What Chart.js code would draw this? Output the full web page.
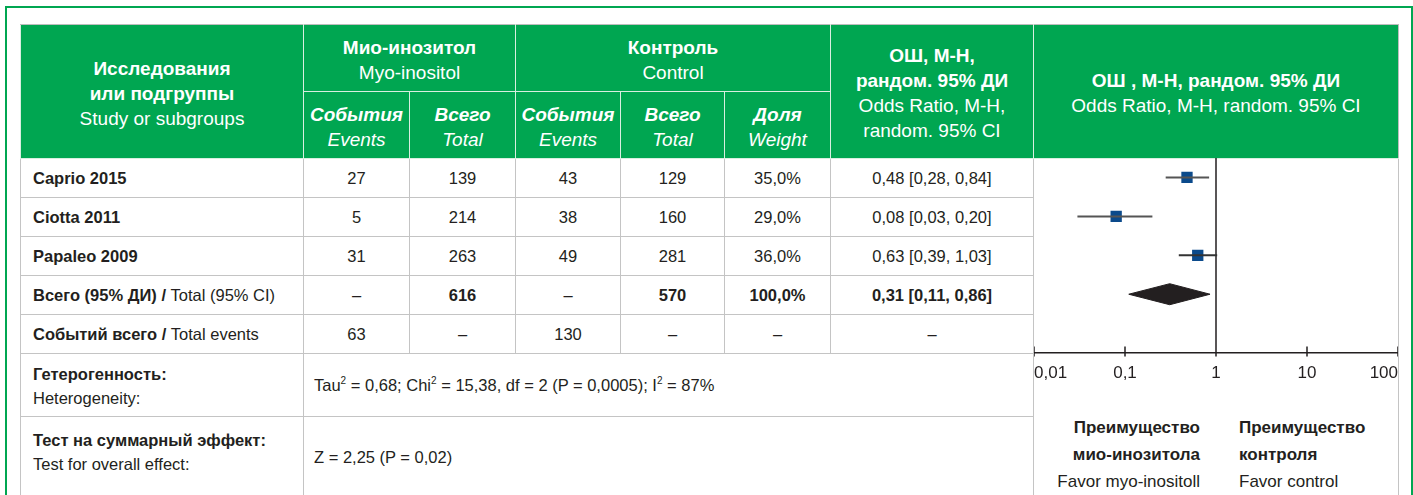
<!DOCTYPE html>
<html>
<head>
<meta charset="utf-8">
<script src="https://cdn.jsdelivr.net/npm/chart.js@4/dist/chart.umd.min.js"></script>
<style>
  html, body { margin: 0; padding: 0; background: #fff; }
  body { width: 1413px; height: 495px; position: relative; overflow: hidden;
         font-family: "Liberation Sans", Arial, sans-serif; color: #231f20; }
  .frame { position: absolute; left: 5px; top: 6px; width: 1404px; height: 520px; border: 2px solid #00a651; }
  table { position: absolute; left: 20px; top: 24px; border-collapse: collapse; table-layout: fixed; }
  th { background: #00a651; color: #fff; font-weight: normal; border: 1px solid #d8efe0; text-align: center;
       font-size: 19px; line-height: 25px; padding: 3px 0 0 0; }
  thead tr:first-child th { border-top: 1px solid #bdbdbd; }
  th.right { border-right: 1px solid #bdbdbd; }
  th b { font-weight: bold; }
  th.sub { font-style: italic; }
  td { border: 1px solid #c4c4c4; font-size: 16.5px; text-align: center; padding: 0; height: 38px; }
  td.name { text-align: left; padding-left: 12px; }
  td.note { text-align: left; padding-left: 12px; vertical-align: top; line-height: 24px; }
  td.stat { text-align: left; padding-left: 10px; }
  td.forest { border-top: 1px solid #c4c4c4; border-bottom: none; }
  sup { font-size: 10px; vertical-align: 7px; line-height: 0; }
  #plot { position: absolute; left: 1034px; top: 158px; width: 364px; height: 226px; }
  .favor { position: absolute; top: 414px; font-size: 17px; line-height: 27px; }
</style>
</head>
<body>
<div class="frame"></div>
<table id="tbl">
  <colgroup>
    <col style="width:283px"><col style="width:106px"><col style="width:106px"><col style="width:105px">
    <col style="width:104px"><col style="width:106px"><col style="width:203px"><col style="width:365px">
  </colgroup>
  <thead>
    <tr style="height:67px">
      <th rowspan="2"><b>Исследования<br>или подгруппы</b><br>Study or subgroups</th>
      <th colspan="2"><b>Мио-инозитол</b><br>Myo-inositol</th>
      <th colspan="3"><b>Контроль</b><br>Control</th>
      <th rowspan="2"><b>ОШ, М-Н,<br>рандом. 95% ДИ</b><br>Odds Ratio, M-H,<br>random. 95% CI</th>
      <th rowspan="2" class="right"><b>ОШ , М-Н, рандом. 95% ДИ</b><br>Odds Ratio, M-H, random. 95% CI</th>
    </tr>
    <tr style="height:67px">
      <th class="sub"><b>События</b><br>Events</th>
      <th class="sub"><b>Всего</b><br>Total</th>
      <th class="sub"><b>События</b><br>Events</th>
      <th class="sub"><b>Всего</b><br>Total</th>
      <th class="sub"><b>Доля</b><br>Weight</th>
    </tr>
  </thead>
  <tbody id="body"></tbody>
</table>
<div id="plot"><canvas id="forest"></canvas></div>
<div class="favor" style="right:213px; text-align:right"><b>Преимущество<br>мио-инозитола</b><br>Favor myo-inositoll</div>
<div class="favor" style="left:1239px; text-align:left"><b>Преимущество<br>контроля</b><br>Favor control</div>

<script>
// study data
const studies = ['Caprio 2015', 'Ciotta 2011', 'Papaleo 2009'];
const myoEvents = [27, 5, 31];
const myoTotal = [139, 214, 263];
const ctlEvents = [43, 38, 49];
const ctlTotal = [129, 160, 281];
const weights = [35.0, 29.0, 36.0];
const oddsRatio = [0.48, 0.08, 0.63];
const ciLow = [0.28, 0.03, 0.39];
const ciHigh = [0.84, 0.20, 1.03];

// pooled
const pooled = [0.31, 0.11, 0.86]; // OR, low, high
const pooledTotals = [616, 570];
const pooledEvents = [63, 130];

const heterogeneity = 'Tau<sup>2</sup> = 0,68; Chi<sup>2</sup> = 15,38, df = 2 (P = 0,0005); I<sup>2</sup> = 87%';
const overallEffect = 'Z = 2,25 (P = 0,02)';

const tickValues = [0.01, 0.1, 1, 10, 100];

const comma = (v, d) => v.toFixed(d).replace('.', ',');
const orText = (o, l, h) => comma(o, 2) + ' [' + comma(l, 2) + ', ' + comma(h, 2) + ']';
const dash = '–';

// table body
let html = '';
studies.forEach((s, i) => {
  html += '<tr><td class="name"><b>' + s + '</b></td><td>' + myoEvents[i] + '</td><td>' + myoTotal[i] +
    '</td><td>' + ctlEvents[i] + '</td><td>' + ctlTotal[i] + '</td><td>' + comma(weights[i], 1) + '%</td><td>' +
    orText(oddsRatio[i], ciLow[i], ciHigh[i]) + '</td>' +
    (i === 0 ? '<td class="forest" rowspan="7"></td>' : '') + '</tr>';
});
const wSum = weights.reduce((a, b) => a + b, 0);
html += '<tr><td class="name"><b>Всего (95% ДИ) /</b> Total (95% CI)</td><td>' + dash + '</td><td><b>' + pooledTotals[0] +
  '</b></td><td>' + dash + '</td><td><b>' + pooledTotals[1] + '</b></td><td><b>' + comma(wSum, 1) + '%</b></td><td><b>' +
  orText(pooled[0], pooled[1], pooled[2]) + '</b></td></tr>';
html += '<tr><td class="name"><b>Событий всего /</b> Total events</td><td>' + pooledEvents[0] + '</td><td>' + dash +
  '</td><td>' + pooledEvents[1] + '</td><td>' + dash + '</td><td>' + dash + '</td><td>' + dash + '</td></tr>';
html += '<tr style="height:63px"><td class="note" style="padding-top:8px"><b>Гетерогенность:</b><br>Heterogeneity:</td>' +
  '<td class="stat" colspan="6">' + heterogeneity + '</td></tr>';
html += '<tr style="height:85px"><td class="note" style="padding-top:11px"><b>Тест на суммарный эффект:</b><br>Test for overall effect:</td>' +
  '<td class="stat" colspan="6" style="vertical-align:top;padding-top:31px">' + overallEffect + '</td></tr>';
document.getElementById('body').innerHTML = html;

// forest plot
const ink = '#231f20';
const datasets = [];
studies.forEach((s, i) => {
  datasets.push({
    label: s + ' CI',
    data: [{ x: ciLow[i], y: i }, { x: ciHigh[i], y: i }],
    showLine: true, borderColor: i === 2 ? '#333' : '#555', borderWidth: 2, pointRadius: 0
  });
});
datasets.push({
  label: 'OR',
  data: studies.map((s, i) => ({ x: oddsRatio[i], y: i })),
  pointStyle: 'rect', pointRadius: 8, pointHoverRadius: 8,
  backgroundColor: '#0b4a8b', borderWidth: 0
});
const row = studies.length;
const half = 0.27;
datasets.push({
  label: 'Pooled',
  data: [{ x: pooled[1], y: row }, { x: pooled[0], y: row - half }, { x: pooled[2], y: row },
         { x: pooled[0], y: row + half }, { x: pooled[1], y: row }],
  showLine: true, fill: 'shape', backgroundColor: ink, borderColor: ink, borderWidth: 1, pointRadius: 0
});

const forestLines = {
  id: 'forestLines',
  beforeDatasetsDraw(chart) {
    const { ctx, chartArea, scales: { x } } = chart;
    ctx.save();
    ctx.strokeStyle = ink;
    ctx.lineWidth = 1.5;
    ctx.beginPath();
    const px1 = x.getPixelForValue(1);
    ctx.moveTo(px1, chartArea.top);
    ctx.lineTo(px1, chartArea.bottom);
    x.ticks.forEach(t => {
      const px = x.getPixelForValue(t.value);
      ctx.moveTo(px, chartArea.bottom - 6);
      ctx.lineTo(px, chartArea.bottom + 4);
    });
    ctx.stroke();
    ctx.restore();
  }
};

new Chart(document.getElementById('forest'), {
  type: 'scatter',
  data: { datasets },
  options: {
    responsive: true,
    maintainAspectRatio: false,
    animation: false,
    layout: { padding: 0, autoPadding: false },
    plugins: { legend: { display: false }, tooltip: { enabled: false } },
    scales: {
      x: {
        type: 'logarithmic', min: 0.01, max: 100,
        afterBuildTicks: s => { s.ticks = tickValues.map(v => ({ value: v })); },
        grid: { display: true, drawOnChartArea: false, drawTicks: true, tickLength: 11, color: 'rgba(0,0,0,0)' },
        border: { display: true, color: ink, width: 1.5 },
        ticks: {
          align: 'inner', autoSkip: false, maxRotation: 0, padding: 0,
          color: ink, font: { family: '"Liberation Sans", Arial, sans-serif', size: 17 },
          callback: v => String(v).replace('.', ',')
        }
      },
      y: { type: 'linear', min: -0.5, max: 4.5, reverse: true, display: false }
    }
  },
  plugins: [forestLines]
});
</script>
</body>
</html>
